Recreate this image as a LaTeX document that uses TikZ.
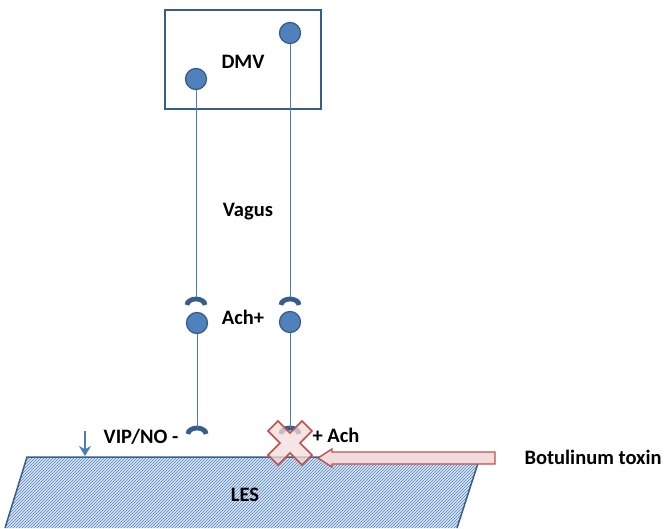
\documentclass[tikz,border=0pt]{standalone}
\usepackage{fontspec}
\setmainfont{Carlito}
\usetikzlibrary{arrows.meta}
\usetikzlibrary{patterns}
\usetikzlibrary{calc}
\definecolor{cellblue}{HTML}{4F81BD}
\definecolor{edgeblue}{HTML}{385D8A}
\definecolor{axonblue}{HTML}{4A7EBB}
\definecolor{toxinred}{HTML}{C0504D}
\definecolor{toxinpink}{HTML}{F2DCDB}
\definecolor{lesfill}{HTML}{DCE6F2}
\tikzset{
	cell/.style={circle,fill=cellblue,draw=edgeblue,line width=1.3pt,minimum size=21pt,inner sep=0pt},
	axon/.style={axonblue,line width=0.9pt},
	receptor/.style={edgeblue,line width=4.8pt},
	lbl/.style={font=\fontsize{20.5}{24}\selectfont\bfseries,inner sep=0pt}
}
\begin{document}
\begin{tikzpicture}[x=1pt,y=-1pt]
	\useasboundingbox (0,0) rectangle (666,529);
	% LES
	\fill[lesfill] (27,457) -- (480,457) -- (457,528) -- (5,528) -- cycle;
	\fill[pattern=north east lines,pattern color=cellblue] (27,457) -- (480,457) -- (457,528) -- (5,528) -- cycle;
	\draw[edgeblue,line width=1.5pt] (5,528) -- (27,457) -- (480,457) -- (457,528);
	\node[lbl] (les) at (245,495) {LES};
	% DMV
	\draw[edgeblue,line width=2pt] (165,10) rectangle (321,109);
	\node[lbl] (dmv) at (243,62) {DMV};
	\node[cell] (c1) at (196,79) {};
	\node[cell] (c2) at (290,33) {};
	\node[lbl] (vagus) at (248,212) {Vagus};
	% synapses
	\coordinate (r1) at (196,299);
	\coordinate (r2) at (290,299);
	\coordinate (r3) at (197,428);
	\coordinate (r4) at (290,428);
	\draw[axon] (c1) -- (r1);
	\draw[axon] (c2) -- (r2);
	\foreach \r in {r1,r2,r3,r4}
		\draw[receptor] ($(\r)+(-9,6)$) arc (180:360:9 and 6);
	\node[cell] (c3) at (197,323) {};
	\node[cell] (c4) at (290,322) {};
	\node[lbl] (achplus) at (243,317) {Ach+};
	\draw[axon] (c3) -- (r3);
	\draw[axon] (c4) -- (r4);
	\node[lbl] (vip) at (141,437) {VIP/NO -};
	\coordinate (d1) at (85,431);
	\coordinate (d2) at (85,456);
	\draw[axonblue,line width=2.8pt,-{Stealth[length=10pt,width=12pt]}] (d1) -- (d2);
	% botulinum toxin
	\filldraw[fill=toxinpink,fill opacity=0.75,draw=toxinred,line width=1.6pt]
		(290,443) ++(-22,-12) -- ++(10,-10) -- ++(12,12) -- ++(12,-12) -- ++(10,10)
		-- ++(-12,12) -- ++(12,12) -- ++(-10,10) -- ++(-12,-12) -- ++(-12,12)
		-- ++(-10,-10) -- ++(12,-12) -- cycle;
	\node[lbl] (ach) at (336,435) {+ Ach};
	\filldraw[fill=toxinpink,draw=toxinred,line width=1.4pt]
		(318,458) -- (332,449) -- (332,452) -- (495,452) -- (495,464) -- (332,464) -- (332,467) -- cycle;
	\node[lbl] (botox) at (593,457) {Botulinum toxin};
\end{tikzpicture}
\end{document}
